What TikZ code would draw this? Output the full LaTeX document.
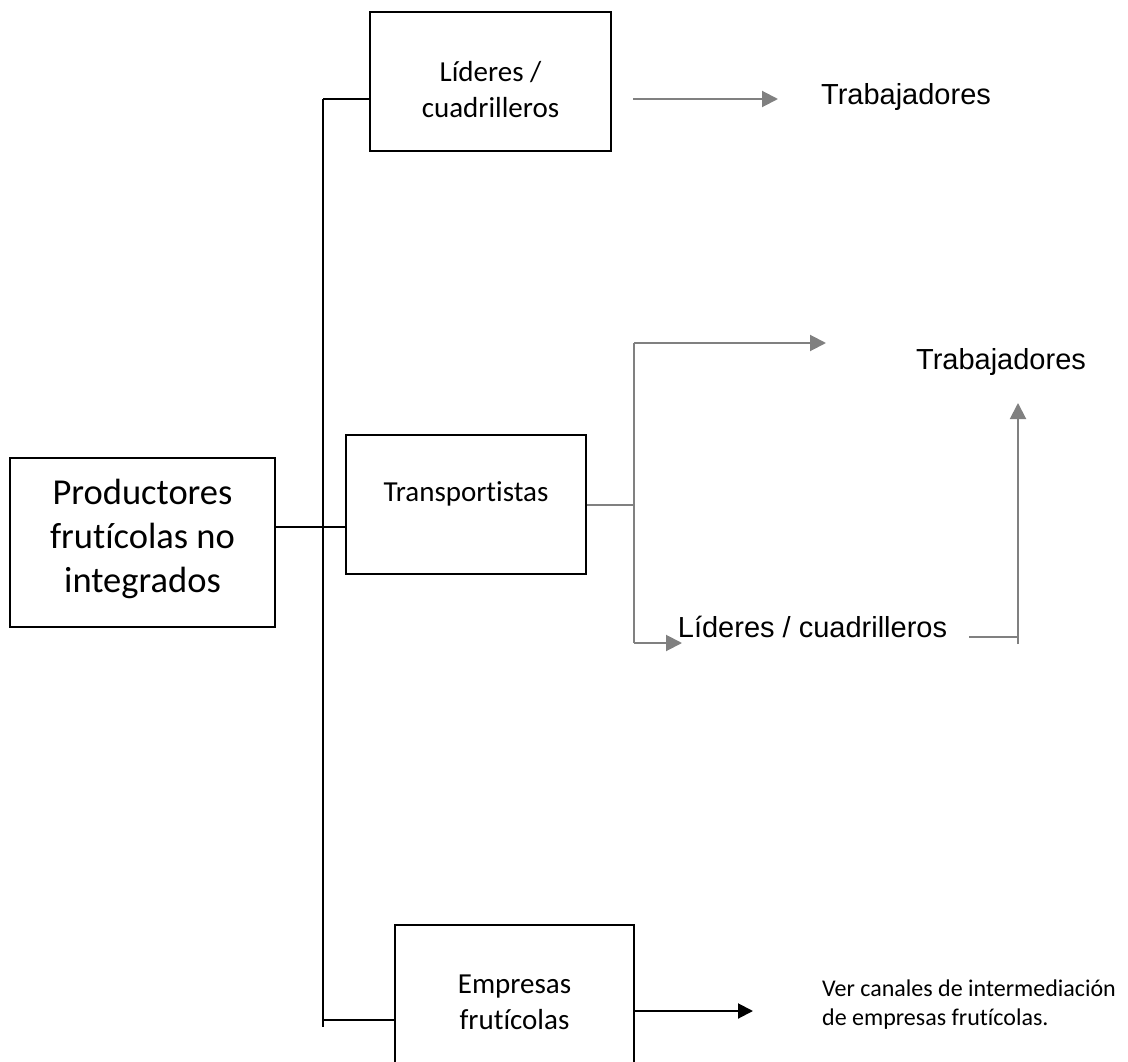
\documentclass[tikz,border=0pt]{standalone}
\usepackage{fontspec}
\setmainfont{Carlito}[Ligatures=NoCommon]
\newfontfamily\arialfont{Liberation Sans}
\usetikzlibrary{shapes.geometric, arrows.meta}
\definecolor{lineGray}{RGB}{128,128,128}

\begin{document}
\begin{tikzpicture}[x=1pt,y=-1pt]
	\tikzstyle{Box} = [rectangle, minimum width=240pt, minimum height=139pt, draw=black, line width=1.6pt, fill=white]
	\tikzstyle{BoxText} = [align=center, inner sep=0pt, font=\fontsize{29}{36}\selectfont]
	\tikzstyle{Label} = [inner sep=0pt, font=\arialfont\fontsize{29}{35}\selectfont]
	\tikzstyle{line} = [line width=1.6pt, black]
	\tikzstyle{grayLine} = [line width=2pt, lineGray]
	\tikzstyle{grayArrow} = [grayLine, -{Triangle[length=16pt,width=16pt]}]
	\tikzstyle{arrow} = [line width=2pt, black, -{Triangle[length=15pt,width=15pt]}]

	%\draw[step=50pt,gray,very thin] (0,0) grid (1128,1062);
	\useasboundingbox (0,0) rectangle (1128,1062);

	\node (prodNode) [Box, minimum width=265pt, minimum height=169pt] at (142.5,542.5) {};
	\node (lideresNode) [Box, minimum width=241pt] at (490.5,81.5) {};
	\node (transNode) [Box] at (466,504.5) {};
	\node (empresasNode) [Box, minimum width=239pt] at (514.5,994.5) {};

	\node (prodText) [BoxText, font=\fontsize{36.5}{44}\selectfont] at (142.5,539) {Productores\\frutícolas no\\integrados};
	\node (lideresText) [BoxText] at (490.5,90) {Líderes /\\cuadrilleros};
	\node (transText) [BoxText] at (466,494) {Transportistas};
	\node (empresasText) [BoxText] at (514.5,1002) {Empresas\\frutícolas};

	\node (trabTopNode) [Label] at (906,97) {Trabajadores};
	\node (trabNode) [Label] at (1001,362) {Trabajadores};
	\node (cuadNode) [Label] at (812.5,627) {Líderes / cuadrilleros};
	\node (verNode) [anchor=west, align=left, inner sep=0pt, font=\fontsize{24}{29}\selectfont] at (822,1005) {Ver canales de intermediación\\de empresas frutícolas.};

	% black tree
	\coordinate (topJoint) at (323,99);
	\coordinate (midJoint) at (323,527);
	\coordinate (lowJoint) at (323,1020);
	\coordinate (lineEnd) at (323,1027);
	\draw [line] (topJoint) -- (lineEnd);
	\draw [line] (topJoint) -- (topJoint -| lideresNode.west);
	\draw [line] (prodNode.east |- midJoint) -- (midJoint -| transNode.west);
	\draw [line] (lowJoint) -- (lowJoint -| empresasNode.west);

	% gray branches
	\coordinate (topStart) at (633,99);
	\coordinate (topTip) at (778,99);
	\coordinate (splitTop) at (634,343);
	\coordinate (splitBottom) at (634,643);
	\coordinate (upperTip) at (826,343);
	\coordinate (lowerTip) at (682,643);
	\coordinate (backStart) at (969,637);
	\coordinate (backCorner) at (1018,637);
	\coordinate (backFoot) at (1018,644);
	\coordinate (backTip) at (1018,403);
	\draw [grayArrow] (topStart) -- (topTip);
	\draw [grayLine] (transNode.east) -- (transNode.east -| splitTop);
	\draw [grayLine] (splitTop) -- (splitBottom);
	\draw [grayArrow] (splitTop) -- (upperTip);
	\draw [grayArrow] (splitBottom) -- (lowerTip);
	\draw [grayLine] (backStart) -- (backCorner);
	\draw [grayArrow] (backFoot) -- (backTip);

	\coordinate (empTip) at (753,1011);
	\draw [arrow] (empTip -| empresasNode.east) -- (empTip);
\end{tikzpicture}
\end{document}
